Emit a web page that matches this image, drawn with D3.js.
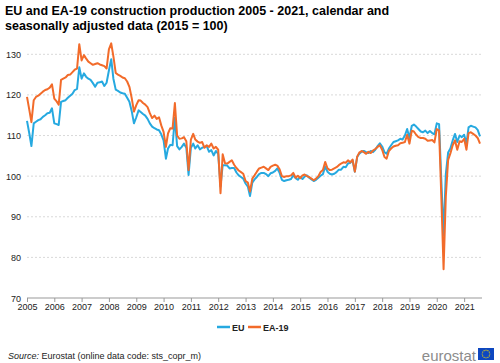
<!DOCTYPE html>
<html>
<head>
<meta charset="utf-8">
<script src="https://cdn.jsdelivr.net/npm/d3@7"></script>
<style>
  body { margin: 0; background: #fff; }
  svg { font-family: "Liberation Sans", Arial, sans-serif; display: block; }
</style>
</head>
<body>
<svg id="chart" width="500" height="363"></svg>
<script>
// monthly index, 2015 = 100, Jan 2005 .. Aug 2021
const startMonth = new Date(2005, 0, 1);
const seriesNames = ["EU", "EA-19"];
const yTicks = [70, 80, 90, 100, 110, 120, 130];
const yearTicks = d3.range(2005, 2022);

const eu = [
  113.6, 110.5, 107.4, 113, 113.4, 113.8, 114, 114.6, 115, 115.5, 115.6, 116.7, // 2005
  113, 112.8, 112.6, 118.3, 118.5, 118.7, 119.3, 119.8, 120.3, 121.2, 121.5, 126.8, // 2006
  124, 125.3, 124.5, 124, 123.7, 122.9, 122, 123, 123.1, 123.3, 122.2, 123, // 2007
  126, 128.8, 124, 121.3, 121, 120.6, 120.4, 120.3, 119.3, 118.3, 116, 113, // 2008
  114.5, 116.2, 115.8, 115.3, 114.9, 114.1, 113, 112.2, 111.8, 111.5, 111.3, 110.3, // 2009
  108.8, 104.3, 106.8, 107.7, 107.6, 114.4, 107.4, 106.6, 107.2, 108, 107, 100.3, // 2010
  107, 108, 106.8, 107.6, 106.6, 107, 107.2, 107.4, 106, 106.4, 105.1, 106.2, // 2011
  105.5, 97.5, 102.7, 102.7, 102.6, 101.9, 102, 102, 100.9, 100.2, 99.8, 99.4, // 2012
  98.2, 97.4, 95.1, 98.4, 99.2, 99.8, 100.5, 100.8, 100.8, 100.5, 100, 100.7, // 2013
  100.9, 101.3, 101.9, 100.8, 99.1, 98.8, 99, 99.1, 99.3, 100.2, 99.5, 99.1, // 2014
  99.8, 99.3, 99.9, 100.2, 99.6, 99.2, 98.8, 99.1, 99.6, 100.1, 100.5, 102.3, // 2015
  101.1, 100.6, 100.4, 100.6, 101, 101.6, 101.6, 102.3, 102.2, 103.1, 103.3, 103.9, // 2016
  101.1, 104.7, 105.5, 106, 106.2, 105.9, 105.7, 106.2, 105.9, 106.5, 107.4, 108.1, // 2017
  107.3, 105.9, 105.5, 106.8, 107.6, 108.4, 108.6, 108.8, 109.2, 109, 110, 111.6, // 2018
  109.4, 112.4, 112.7, 112.2, 111.6, 111, 110.8, 111.2, 110.6, 111.1, 110.6, 110.3, // 2019
  113, 112.8, 99.5, 85.5, 100.5, 105.8, 106.8, 108.8, 110.4, 108.4, 110, 109.6, // 2020
  110.2, 108, 112, 112.4, 112.2, 112, 111.4, 109.8 // 2021
];

const ea19 = [
  119.5, 116.3, 113.3, 118.7, 119.5, 119.8, 120.3, 120.8, 121.2, 121.4, 121.8, 122.6, // 2005
  119.1, 118.4, 117.6, 123.7, 124, 124.3, 124.9, 125, 125.6, 126.2, 126.5, 132.5, // 2006
  128.5, 129.8, 129, 128.2, 127.8, 127.4, 127.6, 127.8, 127.5, 127.3, 127.1, 126.5, // 2007
  131.2, 132.7, 129.5, 125.4, 125, 124.7, 124.3, 124.1, 123.3, 122, 119.2, 115.9, // 2008
  117.5, 118.7, 118.6, 118, 117.6, 117, 115.5, 114.3, 114.9, 114.1, 114.5, 112.5, // 2009
  110.9, 107.2, 110.5, 111.8, 111.7, 118, 110, 109.2, 109.3, 109.6, 108.6, 101.5, // 2010
  109, 110.4, 109, 108.5, 108.2, 108.4, 107, 107.6, 107.2, 108, 106.8, 107.2, // 2011
  106.5, 95.8, 105.4, 103.2, 103.1, 103.5, 103.9, 102.8, 102, 101.4, 101, 100.6, // 2012
  98.8, 98.4, 96.2, 99.4, 100.2, 101.1, 101.9, 102.1, 102.3, 101.9, 101.5, 102.3, // 2013
  102.6, 102.8, 102.6, 101.7, 100, 99.8, 100, 100, 100.2, 100.8, 99.6, 100.1, // 2014
  99.5, 100.2, 100.4, 100, 99.8, 99.4, 99, 99.4, 100, 101, 101.5, 103.5, // 2015
  101.9, 101.5, 101.6, 101.9, 102.2, 102.7, 103.1, 103.4, 103.3, 103.9, 103.4, 104.1, // 2016
  101.1, 104.8, 105.8, 106.2, 105.9, 105.5, 106, 105.7, 106.3, 106.7, 107.2, 107.6, // 2017
  106.5, 104.7, 104.3, 106.2, 106.8, 107.3, 107.5, 107.6, 108.1, 108.2, 108.4, 110.2, // 2018
  108, 111.2, 111, 110.2, 109.6, 109.4, 109.4, 109.2, 108.7, 108.8, 108.9, 108.3, // 2019
  111.6, 111.2, 95.5, 77.1, 95, 104, 105.6, 107.6, 108.8, 106.5, 108.6, 108.4, // 2020
  109.2, 106.5, 110.6, 110.8, 110.4, 110, 109.4, 108 // 2021
];

const colors = ["#26a9e0", "#f26b2a"];

const svg = d3.select("#chart");

const months = eu.map((d, i) => d3.timeMonth.offset(startMonth, i));

const x = d3.scaleTime()
    .domain([months[0], months[months.length - 1]])
    .range([27, 480]);

const y = d3.scaleLinear()
    .domain([70, 130])
    .range([298, 54.3]);

const plotRight = 482;

// title
const title = svg.append("text")
    .attr("font-size", 12.5)
    .attr("font-weight", "bold")
    .attr("fill", "#000");
title.append("tspan").attr("x", 5).attr("y", 15)
    .text("EU and EA-19 construction production 2005 - 2021, calendar and");
title.append("tspan").attr("x", 5).attr("y", 30)
    .text("seasonally adjusted data (2015 = 100)");

// gridlines
svg.append("g")
    .selectAll("line")
    .data(yTicks.filter(d => d !== 70))
    .join("line")
    .attr("x1", 27)
    .attr("x2", plotRight)
    .attr("y1", d => y(d))
    .attr("y2", d => y(d))
    .attr("stroke", "#d9d9d9")
    .attr("stroke-width", 1)
    .attr("stroke-dasharray", "2,2");

// y labels
svg.append("g")
    .selectAll("text")
    .data(yTicks)
    .join("text")
    .attr("x", 21)
    .attr("y", d => y(d) + 3.5)
    .attr("text-anchor", "end")
    .attr("font-size", 9)
    .attr("fill", "#222")
    .text(d => d);

// x axis
const xAxis = d3.axisBottom(x)
    .tickValues(yearTicks.map(yr => new Date(yr, 0, 1)))
    .tickFormat(d3.timeFormat("%Y"))
    .tickSize(4)
    .tickSizeOuter(0);

const gx = svg.append("g")
    .attr("transform", `translate(0,${y(70)})`)
    .call(xAxis);
gx.select(".domain").remove();
gx.append("line")
    .attr("x1", 27).attr("x2", plotRight)
    .attr("stroke", "#999");
gx.selectAll(".tick line").attr("stroke", "#999");
gx.selectAll(".tick text")
    .attr("font-size", 9)
    .attr("font-family", "Liberation Sans, Arial, sans-serif")
    .attr("fill", "#222")
    .attr("dy", "0.6em");

// lines
const line = d3.line()
    .x((d, i) => x(months[i]))
    .y(d => y(d));

svg.append("g")
    .selectAll("path")
    .data([eu, ea19])
    .join("path")
    .attr("d", line)
    .attr("fill", "none")
    .attr("stroke", (d, i) => colors[i])
    .attr("stroke-width", 2)
    .attr("stroke-linejoin", "round");

// legend
const legend = svg.append("g").attr("transform", "translate(217,327)");
const legendX = [0, 31];
const item = legend.selectAll("g")
    .data(seriesNames)
    .join("g")
    .attr("transform", (d, i) => `translate(${legendX[i]},0)`);
item.append("line")
    .attr("x1", 0).attr("x2", 13)
    .attr("stroke", (d, i) => colors[i])
    .attr("stroke-width", 2.5);
item.append("text")
    .attr("x", 15)
    .attr("y", 3.5)
    .attr("font-size", 9)
    .attr("font-weight", "bold")
    .attr("fill", "#222")
    .text(d => d);

// source
const source = svg.append("text")
    .attr("x", 8)
    .attr("y", 359)
    .attr("font-size", 9)
    .attr("fill", "#222");
source.append("tspan").attr("font-style", "italic").text("Source:");
source.append("tspan").text(" Eurostat (online data code: sts_copr_m)");

// eurostat logo
svg.append("text")
    .attr("x", 476)
    .attr("y", 361)
    .attr("text-anchor", "end")
    .attr("font-size", 15)
    .attr("fill", "#8c8c8c")
    .text("eurostat");

const flag = svg.append("g").attr("transform", "translate(478,348)");
flag.append("rect")
    .attr("width", 16).attr("height", 12)
    .attr("fill", "#0d47c0");
flag.selectAll("circle")
    .data(d3.range(12))
    .join("circle")
    .attr("cx", i => 8 + 3.8 * Math.cos(i * Math.PI / 6))
    .attr("cy", i => 6 + 3.8 * Math.sin(i * Math.PI / 6))
    .attr("r", 0.6)
    .attr("fill", "#ffdd00");
</script>
</body>
</html>
